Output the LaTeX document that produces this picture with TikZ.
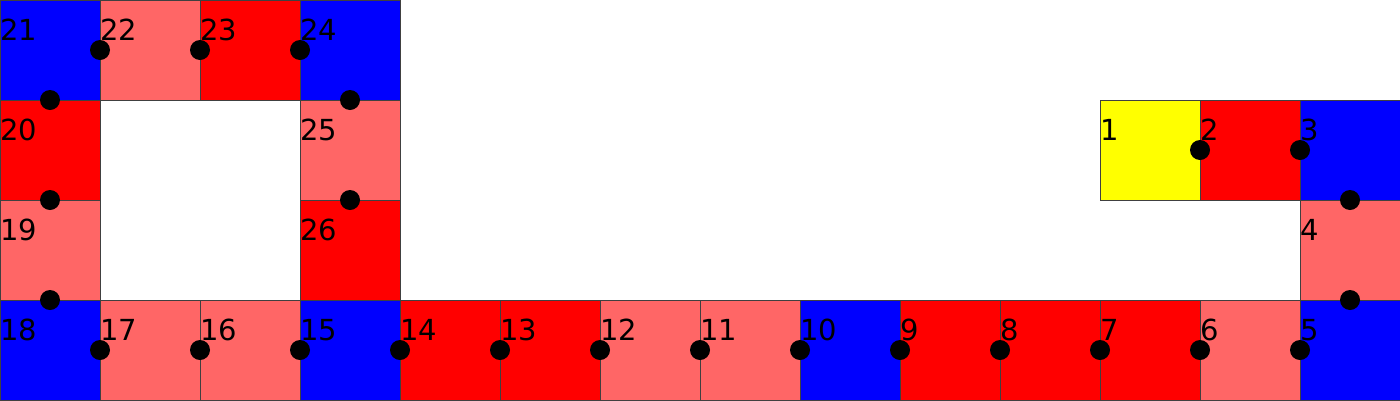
\documentclass[tikz,border=0pt]{standalone}
\usepackage{fontspec}
\setmainfont{DejaVu Sans}
\usetikzlibrary{calc}
\definecolor{cblue}{HTML}{0000FF}
\definecolor{cred}{HTML}{FF0000}
\definecolor{clight}{HTML}{FF6666}
\definecolor{cyellow}{HTML}{FFFF00}
\begin{document}
\begin{tikzpicture}[x=1pt,y=-1pt,
  cell/.style={draw=black!75, line width=1pt, minimum size=100pt, inner sep=0pt, outer sep=0pt},
  num/.style={anchor=base west, inner sep=0pt, outer sep=0pt, font=\fontsize{29}{29}\selectfont},
  dot/.style={circle, fill=black, minimum size=20pt, inner sep=0pt}]
\useasboundingbox (0,0) rectangle (1400,400);
\foreach \n/\c/\r/\col in {1/11/1/cyellow, 2/12/1/cred, 3/13/1/cblue, 4/13/2/clight,
  5/13/3/cblue, 6/12/3/clight, 7/11/3/cred, 8/10/3/cred, 9/9/3/cred, 10/8/3/cblue,
  11/7/3/clight, 12/6/3/clight, 13/5/3/cred, 14/4/3/cred, 15/3/3/cblue, 16/2/3/clight,
  17/1/3/clight, 18/0/3/cblue, 19/0/2/clight, 20/0/1/cred, 21/0/0/cblue, 22/1/0/clight,
  23/2/0/cred, 24/3/0/cblue, 25/3/1/clight, 26/3/2/cred} {
  \node[cell, fill=\col] (c\n) at (\c*100+50, \r*100+50) {};
  \node[num] (t\n) at (\c*100, \r*100+40.5) {\n};
}
\foreach \a [evaluate=\a as \b using int(\a+1)] in {1,...,25}
  \node[dot] (d\a) at ($(c\a.center)!0.5!(c\b.center)$) {};
\end{tikzpicture}
\end{document}
